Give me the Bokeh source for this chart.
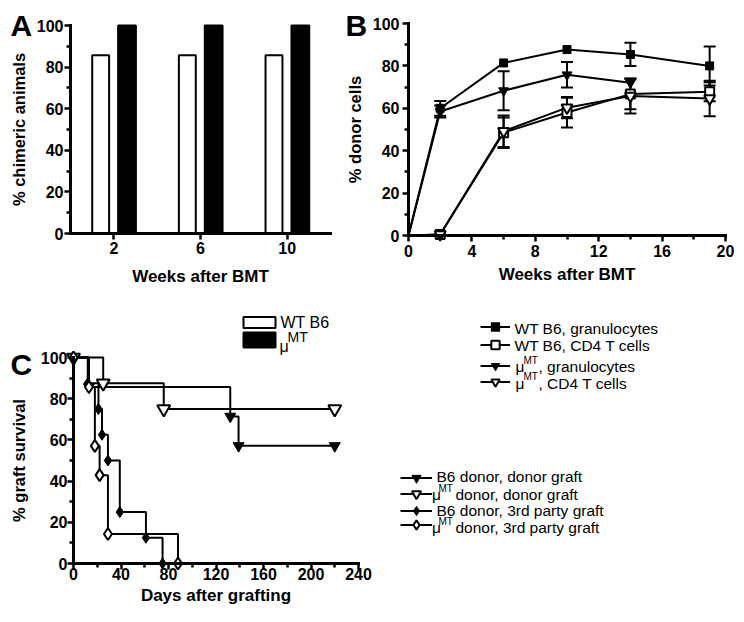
import math
from bokeh.plotting import figure
from bokeh.models import (Range1d, FixedTicker, Label, Legend, LegendItem,
                          ColumnDataSource, Whisker, TeeHead)
from bokeh.transform import dodge
from bokeh.layouts import row, column
from bokeh.embed import file_html
from bokeh.resources import INLINE

FONT = "Liberation Sans"
NAN = float("nan")

# ---------------- data ----------------
# Panel A: % chimeric animals
a_weeks = ["2", "6", "10"]
a_wt_b6 = [85.7, 85.7, 85.7]
a_mu_mt = [100.0, 100.0, 100.0]

pct_ticks = [0, 20, 40, 60, 80, 100]
pct_minor = [10, 30, 50, 70, 90]

# Panel B: % donor cells (mean, error)
b_weeks = [0, 2, 6, 10, 14, 19]
b_wt_gran = [0.0, 60.0, 81.4, 87.7, 85.4, 80.0]
b_wt_gran_err = [0.0, 3.5, 0.0, 0.0, 5.5, 9.2]
b_wt_cd4 = [0.0, 0.5, 48.5, 58.0, 66.7, 67.8]
b_wt_cd4_err = [0.0, 0.0, 7.2, 7.0, 7.2, 4.5]
b_mu_gran = [0.0, 58.5, 68.3, 75.8, 72.0, NAN]
b_mu_gran_err = [0.0, 2.8, 9.2, 6.0, 0.0, NAN]
b_mu_cd4 = [0.0, 0.5, 49.2, 60.3, 65.8, 64.6]
b_mu_cd4_err = [0.0, 0.0, 7.4, 5.0, 8.2, 8.4]
b_xticks = [0, 4, 8, 12, 16, 20]
b_xminor = [2, 6, 10, 14, 18]

# Panel C: graft survival (Kaplan-Meier steps)
c_b6_donor_days = [0, 13, 132, 139, 220]
c_b6_donor_surv = [100.0, 85.7, 71.4, 57.1, 57.1]
c_mu_donor_days = [0, 25, 76, 220]
c_mu_donor_surv = [100.0, 87.5, 75.0, 75.0]
c_b6_3rd_days = [0, 12, 21, 24, 29, 39, 61, 75]
c_b6_3rd_surv = [100.0, 87.5, 75.0, 62.5, 50.0, 25.0, 12.5, 0.0]
c_mu_3rd_days = [0, 13, 18, 22, 29, 88]
c_mu_3rd_surv = [100.0, 85.7, 57.1, 42.9, 14.3, 0.0]
c_xticks = [0, 40, 80, 120, 160, 200, 240]
c_xminor = [20, 60, 100, 140, 180, 220]

# ---------------- layout constants (page px) ----------------
TOTAL_W, TOTAL_H, TOP_H = 742, 620, 303
A_CW = 343


def lin_range(v0, v1, p0, p1, c0, c1):
    """Range so that value v0 sits at page pixel p0 and v1 at p1; canvas spans c0..c1."""
    s = (p1 - p0) / (v1 - v0)
    a = v0 + (c0 - p0) / s
    b = v0 + (c1 - p0) / s
    return Range1d(min(a, b), max(a, b))


def make_fig(xr, yr, w, h):
    p = figure(x_range=xr, y_range=yr, width=w, height=h, title=None,
               min_border_left=0, min_border_right=0, min_border_top=0, min_border_bottom=0,
               output_backend="svg", toolbar_location=None)
    p.xgrid.visible = False
    p.ygrid.visible = False
    p.outline_line_color = None
    p.background_fill_color = "white"
    p.border_fill_color = "white"
    return p


def style_axis(ax, ticks, minor, loc, bounds, standoff=2, title="", title_size="17px",
               title_standoff=8, tick_out=6):
    ax.fixed_location = loc
    ax.bounds = bounds
    ax.ticker = FixedTicker(ticks=ticks, minor_ticks=minor)
    ax.axis_line_width = 3
    ax.axis_line_color = "black"
    ax.axis_line_cap = "square"
    ax.major_tick_line_width = 2.5
    ax.minor_tick_line_width = 2.5
    ax.major_tick_line_color = "black"
    ax.minor_tick_line_color = "black"
    ax.major_tick_out = tick_out
    ax.major_tick_in = 0
    ax.minor_tick_out = 4
    ax.minor_tick_in = 0
    ax.major_label_text_font = FONT
    ax.major_label_text_font_style = "bold"
    ax.major_label_text_font_size = "16px"
    ax.major_label_text_color = "black"
    ax.major_label_standoff = standoff
    ax.axis_label = title
    ax.axis_label_text_font = FONT
    ax.axis_label_text_font_style = "bold"
    ax.axis_label_text_font_size = title_size
    ax.axis_label_text_color = "black"
    ax.axis_label_standoff = title_standoff


def add_text(p, cx0, cy1, text, px, py, size, bold=False):
    # (px, py): page position of the text's left end / vertical middle; canvas left cx0, bottom cy1
    p.add_layout(Label(x=px - cx0, y=cy1 - py, x_units="screen", y_units="screen",
                       text=text, text_font=FONT, text_font_size=f"{size}px",
                       text_font_style="bold" if bold else "normal", text_color="black",
                       text_align="left", text_baseline="middle"))


# ---------------- Panel A ----------------
a_pos = list(range(len(a_weeks)))
nA = len(a_weeks)
pA = make_fig(lin_range(-0.5, nA - 0.5, 70, 330, 0, A_CW),
              lin_range(0, 100, 233, 25, 0, TOP_H), A_CW, TOP_H)
srcA = ColumnDataSource(dict(pos=a_pos, wt=a_wt_b6, mu=a_mu_mt))
pA.vbar(x=dodge("pos", -0.152), top="wt", width=0.195, source=srcA,
        fill_color="white", line_color="black", line_width=2)
pA.vbar(x=dodge("pos", 0.152), top="mu", width=0.205, source=srcA,
        fill_color="black", line_color="black", line_width=2)
style_axis(pA.xaxis[0], a_pos, [], 0, (-0.5, nA - 0.5), standoff=2,
           title="Weeks after BMT", title_size="17px", title_standoff=10)
pA.xaxis[0].major_label_overrides = {p: w for p, w in zip(a_pos, a_weeks)}
style_axis(pA.yaxis[0], pct_ticks, pct_minor, -0.5, (0, 100), standoff=1,
           title="% chimeric animals", title_size="16.5px", title_standoff=6)
add_text(pA, 0, TOP_H, "A", 10, 24.5, 30, bold=True)

# ---------------- Panel B ----------------
B_CX = A_CW
pB = make_fig(lin_range(0, 20, 408, 725, B_CX, TOTAL_W),
              lin_range(0, 100, 235, 23, 0, TOP_H), TOTAL_W - B_CX, TOP_H)
style_axis(pB.xaxis[0], b_xticks, b_xminor, 0, (0, 20), standoff=3,
           title="Weeks after BMT", title_size="17px", title_standoff=5)
style_axis(pB.yaxis[0], pct_ticks, pct_minor, 0, (0, 100), standoff=3,
           title="% donor cells", title_size="16.5px", title_standoff=6)


def err_bars(p, xs, ys, es):
    bx, lo, hi = [], [], []
    for x, y, e in zip(xs, ys, es):
        if e == e and y == y and e > 0:
            bx.append(x)
            lo.append(y - e)
            hi.append(y + e)
    src = ColumnDataSource(dict(base=bx, lower=lo, upper=hi))
    p.add_layout(Whisker(source=src, base="base", lower="lower", upper="upper",
                         line_width=2, line_color="black",
                         upper_head=TeeHead(size=12, line_width=2, line_color="black"),
                         lower_head=TeeHead(size=12, line_width=2, line_color="black")))


# legend order: WT gran, WT CD4, muMT gran, muMT CD4
series_b = [
    (b_wt_gran, b_wt_gran_err, "square", 8, "black"),
    (b_wt_cd4, b_wt_cd4_err, "square", 9, "white"),
    (b_mu_gran, b_mu_gran_err, "inverted_triangle", 10, "black"),
    (b_mu_cd4, b_mu_cd4_err, "inverted_triangle", 11, "white"),
]
for vals, errs, mk, sz, fc in series_b:
    pB.line(b_weeks, vals, line_width=2, line_color="black")
for vals, errs, mk, sz, fc in series_b:
    pB.scatter(b_weeks[1:], vals[1:], marker=mk, size=sz, fill_color=fc,
               line_color="black", line_width=2 if fc == "white" else 1)
for vals, errs, mk, sz, fc in series_b:
    err_bars(pB, b_weeks, vals, errs)
add_text(pB, B_CX, TOP_H, "B", 345, 24.5, 30, bold=True)

# ---------------- Panel C ----------------
C_H = TOTAL_H - TOP_H
pC = make_fig(lin_range(0, 240, 73, 358, 0, TOTAL_W),
              lin_range(0, 100, 563, 357, TOP_H, TOTAL_H), TOTAL_W, C_H)
style_axis(pC.xaxis[0], c_xticks, c_xminor, 0, (0, 240), standoff=-2,
           title="Days after grafting", title_size="17px", title_standoff=3)
style_axis(pC.yaxis[0], pct_ticks, pct_minor, 0, (0, 100), standoff=0,
           title="% graft survival", title_size="16.5px", title_standoff=10)

series_c = [
    (c_b6_donor_days, c_b6_donor_surv, "inverted_triangle", 11, "black"),
    (c_mu_donor_days, c_mu_donor_surv, "inverted_triangle", 13, "white"),
    (c_b6_3rd_days, c_b6_3rd_surv, "diamond", 11, "black"),
    (c_mu_3rd_days, c_mu_3rd_surv, "diamond", 12, "white"),
]
c_rends = []
for days, surv, mk, sz, fc in series_c:
    c_rends.append(pC.step(days, surv, mode="after", line_width=2, line_color="black"))
c_marks = []
for days, surv, mk, sz, fc in series_c:
    c_marks.append(pC.scatter(days, surv, marker=mk, size=sz, fill_color=fc,
                              line_color="black", line_width=2 if fc == "white" else 1))

add_text(pC, 0, TOTAL_H, "C", 10, 363.5, 30, bold=True)


# ---------------- legends (drawn in panel C's canvas) ----------------
def legend_row(renderers, left, center, gw, gh):
    leg = Legend(items=[LegendItem(label="", renderers=renderers)],
                 location=(left, TOTAL_H - center - gh / 2.0),
                 padding=0, margin=0, spacing=0, glyph_width=gw, glyph_height=gh,
                 label_height=gh, label_width=0, label_standoff=0,
                 label_text_font_size="1px", border_line_alpha=0, background_fill_alpha=0)
    pC.add_layout(leg)


def tx(text, px, py, size):
    add_text(pC, 0, TOTAL_H, text, px, py, size)


# legend for panel A (legend-only renderers, nothing drawn in the plot area)
dummy_wt = pC.vbar(x=[NAN], top=[NAN], width=1, fill_color="white", line_color="black", line_width=2)
dummy_mu = pC.vbar(x=[NAN], top=[NAN], width=1, fill_color="black", line_color="black", line_width=2)
legend_row([dummy_wt], 239, 321.5, 40, 14)
legend_row([dummy_mu], 239, 339.5, 40, 19)
tx("WT B6", 280, 322, 16)
tx("\u03bc", 279, 345.5, 16)
tx("MT", 287, 336.7, 14)

# legend for panel B (legend-only renderers)
b_leg_rows = [326.7, 344.5, 365.0, 381.7]
for (vals, errs, mk, sz, fc), cy in zip(series_b, b_leg_rows):
    dl = pC.line(x=[NAN], y=[NAN], line_width=2, line_color="black")
    ds = pC.scatter(x=[NAN], y=[NAN], marker=mk, size=sz, fill_color=fc, line_color="black",
                    line_width=2 if fc == "white" else 1)
    legend_row([dl, ds], 480, cy, 30, 21)
tx("WT B6, granulocytes", 514, 328, 15.5)
tx("WT B6, CD4 T cells", 514, 345.3, 15.5)
tx("\u03bc", 515, 366.3, 15.5)
tx("MT", 523, 359.7, 10)
tx(", granulocytes", 538, 366.3, 15.5)
tx("\u03bc", 515, 383, 15.5)
tx("MT", 523, 376.3, 10)
tx(", CD4 T cells", 538, 383, 15.5)

# legend for panel C
c_leg_rows = [477.0, 493.7, 510.0, 524.7]
for st, sc, cy in zip(c_rends, c_marks, c_leg_rows):
    legend_row([st, sc], 400, cy, 32, 23)
tx("B6 donor, donor graft", 436, 476.3, 15.5)
tx("\u03bc", 431.5, 493.5, 15.5)
tx("MT", 438, 488.2, 10)
tx(" donor, donor graft", 455, 493.5, 15.5)
tx("B6 donor, 3rd party graft", 436, 510, 15.5)
tx("\u03bc", 431.5, 526.5, 15.5)
tx("MT", 438, 521, 10)
tx(" donor, 3rd party graft", 455, 526.5, 15.5)

layout = column(row(pA, pB), pC)
open("out.html", "w").write(file_html(layout, INLINE, "Figure"))
